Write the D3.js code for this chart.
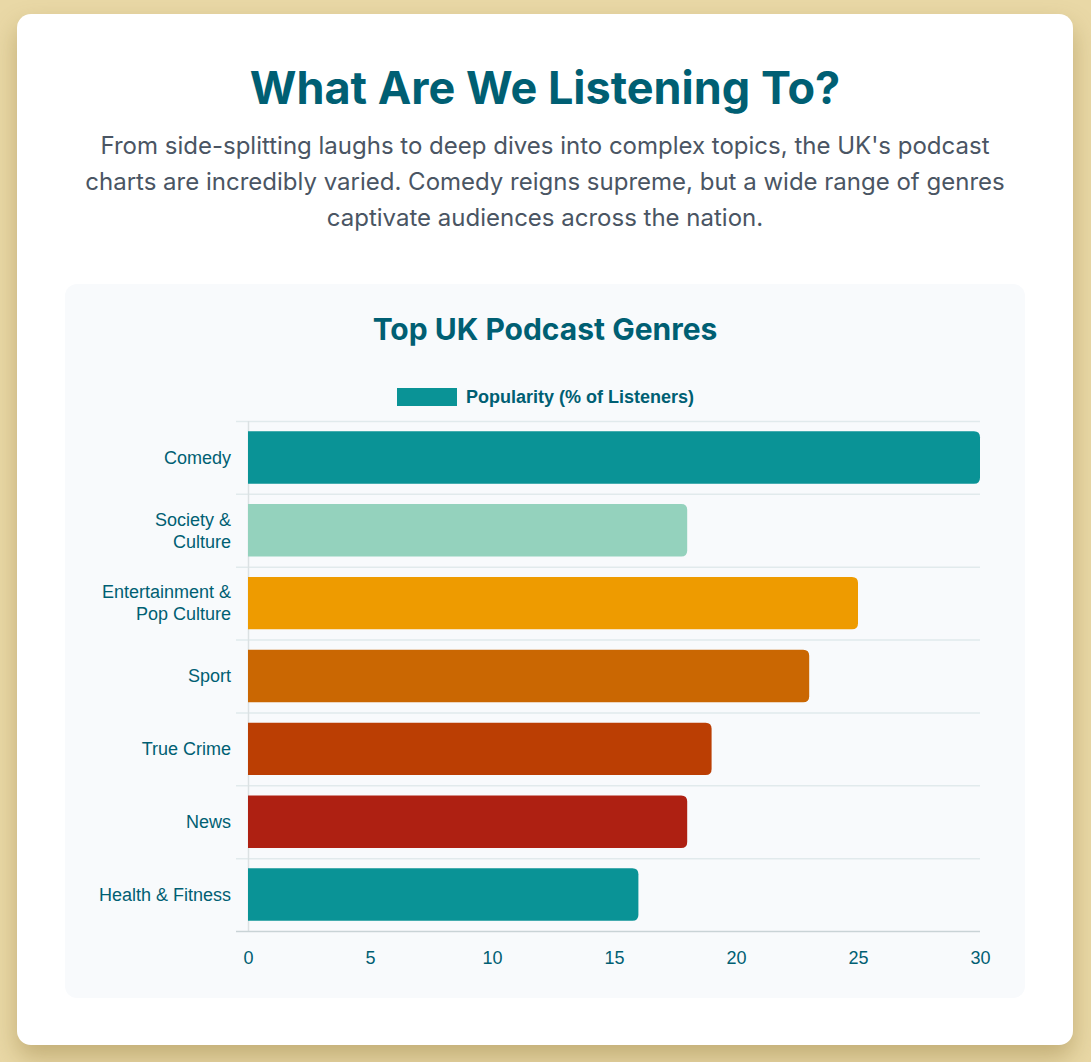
<!DOCTYPE html>
<html>
<head>
<meta charset="utf-8">
<script src="https://cdn.jsdelivr.net/npm/d3@7"></script>
<style>
  html, body { margin: 0; padding: 0; }
  body { background: #e9d8a6; width: 1091px; height: 1062px; position: relative; overflow: hidden; }
  .card {
    position: absolute; left: 17px; top: 14px; width: 1056px; height: 1031px;
    background: #fff; border-radius: 14px;
    box-shadow: 0 12px 24px rgba(120, 95, 30, 0.35);
  }
  h1 {
    position: absolute; left: 0; top: 44px; width: 100%; margin: 0;
    text-align: center; font-family: Inter, sans-serif; font-weight: 700;
    font-size: 45px; line-height: 60px; color: #005f73;
  }
  .sub {
    position: absolute; left: 0; top: 114px; width: 100%; margin: 0;
    text-align: center; font-family: Inter, sans-serif; font-size: 24px;
    line-height: 36px; color: #4a5563;
  }
  .panel {
    position: absolute; left: 48px; top: 270px; width: 960px; height: 714px;
    background: #f8fafc; border-radius: 12px;
  }
  .panel svg { position: absolute; left: 0; top: 0; }
</style>
</head>
<body>
<div class="card">
  <h1>What Are We Listening To?</h1>
  <p class="sub">From side-splitting laughs to deep dives into complex topics, the UK's podcast<br>charts are incredibly varied. Comedy reigns supreme, but a wide range of genres<br>captivate audiences across the nation.</p>
  <div class="panel" id="chart"></div>
</div>
<script>
/* Top UK podcast genres - horizontal bars */

const genres = [
  ["Comedy"],
  ["Society &", "Culture"],
  ["Entertainment &", "Pop Culture"],
  ["Sport"],
  ["True Crime"],
  ["News"],
  ["Health & Fitness"]
];
const popularity = [30, 18, 25, 23, 19, 18, 16];
const barColors = ["#0a9396", "#94d2bd", "#ee9b00", "#ca6702", "#bb3e03", "#ae2012", "#0a9396"];
const xTicks = [0, 5, 10, 15, 20, 25, 30];
const seriesName = "Popularity (% of Listeners)";

const width = 960,
  height = 714,
  margin = ({ top: 137, right: 45, bottom: 67, left: 183 });

const ink = "#005f73";
const labelFont = "Liberation Sans, Arial, Helvetica, sans-serif";

const svg = d3.select("#chart")
  .append("svg")
  .attr("width", width)
  .attr("height", height);

const x = d3.scaleLinear()
  .domain([0, 30])
  .range([margin.left, width - margin.right]);

const y = d3.scaleBand()
  .domain(d3.range(genres.length))
  .range([margin.top, height - margin.bottom])
  .paddingInner(0.28)
  .paddingOuter(0.14);

const band = (height - margin.bottom - margin.top) / genres.length;

// chart title
svg.append("text")
  .attr("x", width / 2)
  .attr("y", 56)
  .attr("text-anchor", "middle")
  .attr("font-family", "Inter, sans-serif")
  .attr("font-weight", 700)
  .attr("font-size", 30)
  .attr("fill", ink)
  .text("Top UK Podcast Genres");

// legend
const legend = svg.append("g");
legend.append("rect")
  .attr("x", 332).attr("y", 104)
  .attr("width", 60).attr("height", 18)
  .attr("fill", barColors[0]);
legend.append("text")
  .attr("x", 401).attr("y", 113)
  .attr("dy", "0.35em")
  .attr("font-family", labelFont)
  .attr("font-weight", 700)
  .attr("font-size", 18)
  .attr("fill", ink)
  .text(seriesName);

// horizontal grid lines on category boundaries
const grid = svg.append("g");
grid.selectAll("line")
  .data(d3.range(genres.length))
  .join("line")
  .attr("x1", margin.left - 12)
  .attr("x2", width - margin.right)
  .attr("y1", d => margin.top + d * band + 0.5)
  .attr("y2", d => margin.top + d * band + 0.5)
  .attr("stroke", "#e1eaec")
  .attr("stroke-width", 1.5);

// y axis border
svg.append("line")
  .attr("x1", margin.left + 0.5).attr("x2", margin.left + 0.5)
  .attr("y1", margin.top).attr("y2", height - margin.bottom)
  .attr("stroke", "#dbe1e3")
  .attr("stroke-width", 1.5);

// bars, rounded at the end only
const r = 6;
svg.append("g")
  .selectAll("path")
  .data(popularity)
  .join("path")
  .attr("fill", (d, i) => barColors[i])
  .attr("d", (d, i) => {
    const x0 = x(0), x1 = x(d), y0 = y(i), h = y.bandwidth();
    return `M${x0},${y0}H${x1 - r}Q${x1},${y0} ${x1},${y0 + r}V${y0 + h - r}Q${x1},${y0 + h} ${x1 - r},${y0 + h}H${x0}Z`;
  });

// x axis
const xAxis = svg.append("g")
  .attr("transform", `translate(0,${height - margin.bottom})`)
  .call(d3.axisBottom(x).tickValues(xTicks).tickSize(0).tickPadding(20));
xAxis.select(".domain").remove();
xAxis.selectAll("text")
  .attr("font-family", labelFont)
  .attr("font-size", 18)
  .attr("fill", ink);

svg.append("line")
  .attr("x1", margin.left - 12).attr("x2", width - margin.right)
  .attr("y1", height - margin.bottom + 0.5).attr("y2", height - margin.bottom + 0.5)
  .attr("stroke", "#c9d3d6")
  .attr("stroke-width", 1.5);

// y labels
const yLabels = svg.append("g")
  .selectAll("text")
  .data(genres)
  .join("text")
  .attr("text-anchor", "end")
  .attr("font-family", labelFont)
  .attr("font-size", 18)
  .attr("fill", ink)
  .attr("x", margin.left - 17)
  .attr("y", (d, i) => y(i) + y.bandwidth() / 2 - (d.length - 1) * 11);

yLabels.selectAll("tspan")
  .data(d => d)
  .join("tspan")
  .attr("x", margin.left - 17)
  .attr("dy", (d, i) => i === 0 ? "0.35em" : 22)
  .text(d => d);
</script>
</body>
</html>
